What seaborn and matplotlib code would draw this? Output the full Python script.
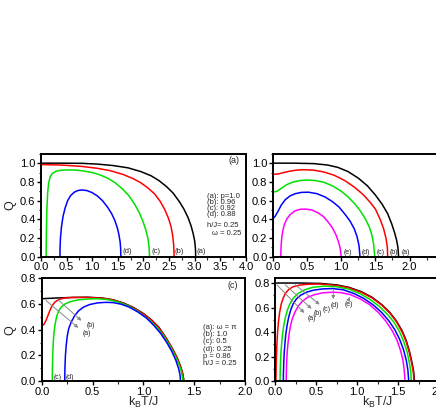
import numpy as np
import pandas as pd
import matplotlib
matplotlib.use("Agg")
import matplotlib.pyplot as plt
import seaborn as sns
from matplotlib.ticker import MultipleLocator, FormatStrFormatter

sns.set_theme(style="ticks")
plt.rcParams['font.family'] = ['Liberation Sans', 'DejaVu Sans']
plt.rcParams['mathtext.fontset'] = 'custom'
plt.rcParams['mathtext.rm'] = 'Liberation Sans'

# ---------------- Panel (a): different p ----------------
a_T_a = [0, 0.4, 0.8, 1.1, 1.4, 1.7, 1.95, 2.15, 2.3, 2.45, 2.58, 2.7, 2.79, 2.87, 2.93, 2.97, 3.0, 3.015, 3.02]
a_Q_a = [1.0, 1.0, 0.998, 0.99, 0.975, 0.95, 0.91, 0.865, 0.815, 0.75, 0.68, 0.59, 0.51, 0.42, 0.33, 0.25, 0.17, 0.09, 0.0]
a_T_b = [0, 0.4, 0.8, 1.1, 1.35, 1.6, 1.8, 1.95, 2.1, 2.22, 2.33, 2.42, 2.49, 2.54, 2.57, 2.59, 2.6]
a_Q_b = [0.985, 0.98, 0.965, 0.945, 0.92, 0.88, 0.835, 0.79, 0.73, 0.67, 0.59, 0.5, 0.41, 0.32, 0.23, 0.13, 0.0]
a_T_c = [0.1, 0.105, 0.115, 0.13, 0.15, 0.18, 0.22, 0.3, 0.4, 0.55, 0.7, 0.85, 1.0, 1.15, 1.3, 1.45, 1.6, 1.72,
         1.83, 1.92, 1.99, 2.05, 2.09, 2.11, 2.12]
a_Q_c = [0.0, 0.25, 0.5, 0.68, 0.79, 0.855, 0.89, 0.915, 0.925, 0.928, 0.925, 0.915, 0.9, 0.875, 0.84, 0.79, 0.72, 0.65,
         0.56, 0.47, 0.38, 0.28, 0.19, 0.1, 0.0]
a_T_d = [0.37, 0.372, 0.38, 0.4, 0.43, 0.47, 0.52, 0.58, 0.65, 0.72, 0.8, 0.9, 1.0, 1.1, 1.2, 1.3, 1.38, 1.44, 1.49,
         1.52, 1.545, 1.555, 1.56]
a_Q_d = [0.0, 0.1, 0.2, 0.32, 0.43, 0.52, 0.6, 0.655, 0.69, 0.708, 0.714, 0.707, 0.685, 0.65, 0.6, 0.53, 0.46, 0.39, 0.31,
         0.24, 0.16, 0.09, 0.0]

# ---------------- Panel (b): top right ----------------
b_T_a = [0, 0.3, 0.6, 0.8, 0.95, 1.1, 1.25, 1.38, 1.5, 1.6, 1.68, 1.74, 1.78, 1.81, 1.83, 1.84]
b_Q_a = [1.0, 1.0, 0.995, 0.98, 0.955, 0.91, 0.84, 0.76, 0.66, 0.56, 0.46, 0.35, 0.26, 0.18, 0.1, 0.0]
b_T_b = [0, 0.08, 0.16, 0.25, 0.35, 0.45, 0.6, 0.75, 0.9, 1.05, 1.2, 1.32, 1.42, 1.5, 1.57, 1.62, 1.655, 1.675, 1.68]
b_Q_b = [0.88, 0.885, 0.9, 0.915, 0.926, 0.93, 0.925, 0.905, 0.87, 0.815, 0.74, 0.665, 0.585, 0.51, 0.4, 0.3, 0.2, 0.1, 0.0]
b_T_c = [0, 0.06, 0.12, 0.2, 0.3, 0.4, 0.5, 0.62, 0.75, 0.88, 1.0, 1.1, 1.2, 1.28, 1.35, 1.41, 1.45, 1.475, 1.49]
b_Q_c = [0.69, 0.7, 0.73, 0.77, 0.8, 0.815, 0.82, 0.815, 0.795, 0.755, 0.7, 0.64, 0.565, 0.49, 0.41, 0.32, 0.23, 0.13, 0.0]
b_T_d = [0, 0.03, 0.07, 0.12, 0.18, 0.25, 0.33, 0.42, 0.52, 0.64, 0.76, 0.87, 0.97, 1.06, 1.13, 1.19, 1.23, 1.26, 1.275]
b_Q_d = [0.41, 0.43, 0.48, 0.55, 0.61, 0.65, 0.675, 0.688, 0.69, 0.675, 0.64, 0.59, 0.53, 0.45, 0.38, 0.3, 0.22, 0.12, 0.0]
b_T_e = [0.115, 0.117, 0.122, 0.13, 0.145, 0.165, 0.2, 0.25, 0.32, 0.4, 0.48, 0.57, 0.66, 0.74, 0.81, 0.87, 0.92, 0.96,
         0.985, 1.0]
b_Q_e = [0.0, 0.07, 0.14, 0.21, 0.28, 0.34, 0.4, 0.45, 0.49, 0.508, 0.51, 0.5, 0.47, 0.43, 0.37, 0.31, 0.24, 0.16,
         0.09, 0.0]

# ---------------- Panel (c): different omega ----------------
c_T_a = [0, 0.15, 0.3, 0.45, 0.6, 0.7, 0.8, 0.9, 1.0, 1.08, 1.15, 1.22, 1.28, 1.33, 1.365, 1.385, 1.4]
c_Q_a = [0.64, 0.646, 0.65, 0.652, 0.645, 0.632, 0.608, 0.573, 0.525, 0.475, 0.42, 0.34, 0.26, 0.185, 0.115, 0.065, 0.0]
c_T_b = [0, 0.02, 0.04, 0.06, 0.08, 0.1, 0.13, 0.17, 0.22, 0.3, 0.45, 0.6, 0.7, 0.8, 0.9, 1.0, 1.08, 1.15, 1.22,
         1.28, 1.33, 1.365, 1.383, 1.397]
c_Q_b = [0.43, 0.44, 0.47, 0.51, 0.55, 0.585, 0.615, 0.635, 0.645, 0.65, 0.65, 0.643, 0.63, 0.605, 0.57, 0.522, 0.472,
         0.417, 0.337, 0.257, 0.182, 0.112, 0.062, 0.0]
c_T_c = [0.103, 0.104, 0.107, 0.112, 0.12, 0.13, 0.145, 0.165, 0.19, 0.23, 0.28, 0.35, 0.45, 0.55, 0.65, 0.75, 0.85,
         0.95, 1.05, 1.13, 1.2, 1.26, 1.31, 1.35, 1.375, 1.39]
c_Q_c = [0.0, 0.1, 0.2, 0.3, 0.38, 0.44, 0.5, 0.545, 0.575, 0.6, 0.617, 0.63, 0.638, 0.64, 0.633, 0.615, 0.585,
         0.54, 0.48, 0.42, 0.35, 0.275, 0.2, 0.13, 0.07, 0.0]
c_T_d = [0.225, 0.227, 0.232, 0.24, 0.25, 0.265, 0.29, 0.32, 0.36, 0.41, 0.47, 0.55, 0.63, 0.7, 0.78, 0.86, 0.95,
         1.03, 1.1, 1.17, 1.23, 1.28, 1.32, 1.345, 1.36, 1.365]
c_Q_d = [0.0, 0.1, 0.2, 0.28, 0.35, 0.41, 0.46, 0.505, 0.545, 0.575, 0.595, 0.608, 0.612, 0.61, 0.598, 0.575, 0.535,
         0.49, 0.435, 0.37, 0.3, 0.23, 0.16, 0.1, 0.05, 0.0]

# ---------------- Panel (d): bottom right ----------------
d_T_a = [0, 0.3, 0.55, 0.75, 0.9, 1.05, 1.18, 1.3, 1.4, 1.48, 1.55, 1.6, 1.64, 1.67, 1.69, 1.7]
d_Q_a = [0.8, 0.8, 0.797, 0.785, 0.765, 0.73, 0.685, 0.625, 0.56, 0.49, 0.41, 0.33, 0.24, 0.15, 0.08, 0.0]
d_T_b = [0.01, 0.012, 0.016, 0.022, 0.03, 0.04, 0.055, 0.075, 0.1, 0.13, 0.17, 0.22, 0.3, 0.4, 0.55, 0.75, 0.9,
         1.05, 1.18, 1.3, 1.4, 1.48, 1.55, 1.6, 1.635, 1.665, 1.685, 1.695]
d_Q_b = [0.0, 0.1, 0.2, 0.3, 0.4, 0.48, 0.56, 0.63, 0.68, 0.72, 0.75, 0.77, 0.783, 0.79, 0.792, 0.78, 0.76,
         0.725, 0.68, 0.62, 0.555, 0.485, 0.4, 0.32, 0.24, 0.15, 0.08, 0.0]
d_T_c = [0.06, 0.062, 0.066, 0.072, 0.08, 0.09, 0.105, 0.125, 0.15, 0.18, 0.22, 0.28, 0.36, 0.46, 0.6, 0.75, 0.9,
         1.03, 1.15, 1.27, 1.37, 1.45, 1.52, 1.57, 1.61, 1.635, 1.655, 1.66]
d_Q_c = [0.0, 0.08, 0.16, 0.24, 0.31, 0.38, 0.45, 0.52, 0.58, 0.63, 0.675, 0.715, 0.745, 0.765, 0.775, 0.77, 0.75,
         0.715, 0.67, 0.61, 0.545, 0.48, 0.4, 0.32, 0.24, 0.16, 0.08, 0.0]
d_T_d = [0.1, 0.102, 0.106, 0.112, 0.12, 0.13, 0.145, 0.165, 0.19, 0.22, 0.26, 0.31, 0.38, 0.47, 0.58, 0.7, 0.83,
         0.96, 1.08, 1.2, 1.3, 1.39, 1.46, 1.52, 1.565, 1.6, 1.62, 1.63]
d_Q_d = [0.0, 0.08, 0.16, 0.24, 0.31, 0.38, 0.45, 0.52, 0.58, 0.63, 0.67, 0.7, 0.725, 0.742, 0.752, 0.755, 0.745,
         0.715, 0.675, 0.62, 0.56, 0.49, 0.42, 0.34, 0.26, 0.17, 0.09, 0.0]
d_T_e = [0.135, 0.137, 0.141, 0.148, 0.157, 0.17, 0.187, 0.21, 0.24, 0.28, 0.33, 0.4, 0.48, 0.58, 0.7, 0.8, 0.92,
         1.04, 1.15, 1.26, 1.35, 1.43, 1.49, 1.53, 1.56, 1.575, 1.585]
d_Q_e = [0.0, 0.08, 0.16, 0.24, 0.31, 0.38, 0.45, 0.51, 0.56, 0.61, 0.65, 0.685, 0.705, 0.72, 0.725, 0.722, 0.705,
         0.67, 0.625, 0.56, 0.49, 0.41, 0.33, 0.25, 0.17, 0.09, 0.0]

colors = ['#000000', '#ff0000', '#00e000', '#0000ff', '#ff00ff']

a_legend = ["(a): p=1.0", "(b): 0.96", "(c): 0.92", "(d): 0.88"]
c_legend = ["(a): \u03c9 = \u03c0", "(b): 1.0", "(c): 0.5", "(d): 0.25"]

fig = plt.figure(figsize=(4.36, 4.09), dpi=100)
W = 0.470
H = 0.252
ax_a = fig.add_axes([0.094, 0.372, W, H])
ax_b = fig.add_axes([0.626, 0.372, W, H])
ax_c = fig.add_axes([0.096, 0.068, W - 0.004, H])
ax_d = fig.add_axes([0.631, 0.068, W, H])


def draw(ax, curves):
    for i, (T, Q) in enumerate(curves):
        df = pd.DataFrame({"T": T, "Q": Q})
        sns.lineplot(data=df, x="T", y="Q", ax=ax, color=colors[i], lw=1.1,
                     sort=False, estimator=None)


def style(ax, xlim, ylim, xmaj, ymaj):
    ax.set_xlim(*xlim)
    ax.set_ylim(*ylim)
    ax.xaxis.set_major_locator(MultipleLocator(xmaj))
    ax.xaxis.set_minor_locator(MultipleLocator(xmaj / 2))
    ax.yaxis.set_major_locator(MultipleLocator(ymaj))
    ax.yaxis.set_minor_locator(MultipleLocator(ymaj / 2))
    ax.xaxis.set_major_formatter(FormatStrFormatter('%.1f'))
    ax.yaxis.set_major_formatter(FormatStrFormatter('%.1f'))
    ax.tick_params(which='major', direction='out', length=3, width=1.0,
                   labelsize=8, pad=1, colors='black')
    ax.tick_params(which='minor', direction='out', length=1.8, width=0.8)
    for s in ax.spines.values():
        s.set_linewidth(1.4)
        s.set_color('black')
    ax.set_xlabel("")
    ax.set_ylabel("")


draw(ax_a, [(a_T_a, a_Q_a), (a_T_b, a_Q_b), (a_T_c, a_Q_c), (a_T_d, a_Q_d)])
style(ax_a, (0, 4.0), (0, 1.1), 0.5, 0.2)
ax_a.set_ylabel("Q", fontsize=9, labelpad=3)
ax_a.text(3.77, 1.03, "(a)", fontsize=6.5, ha='center', va='center')
for j, s in enumerate(a_legend):
    ax_a.text(3.25, 0.64 - j * 0.064, s, fontsize=5.5, ha='left', va='center')
ax_a.text(3.25, 0.33, "h/J= 0.25", fontsize=5.5, ha='left', va='center')
ax_a.text(3.33, 0.245, "\u03c9 = 0.25", fontsize=5.5, ha='left', va='center')
for lab, x in zip(["(d)", "(c)", "(b)", "(a)"], [1.59, 2.16, 2.61, 3.04]):
    ax_a.text(x, 0.055, lab, fontsize=5.5, ha='left', va='center')

draw(ax_b, [(b_T_a, b_Q_a), (b_T_b, b_Q_b), (b_T_c, b_Q_c), (b_T_d, b_Q_d), (b_T_e, b_Q_e)])
style(ax_b, (0, 3.0), (0, 1.1), 0.5, 0.2)
ax_b.set_xticks(np.arange(0, 2.01, 0.5))
for lab, x in zip(["(e)", "(d)", "(c)", "(b)", "(a)"], [1.04, 1.30, 1.52, 1.71, 1.89]):
    ax_b.text(x, 0.05, lab, fontsize=5, ha='left', va='center')

draw(ax_c, [(c_T_a, c_Q_a), (c_T_b, c_Q_b), (c_T_c, c_Q_c), (c_T_d, c_Q_d)])
style(ax_c, (0, 2.0), (0, 0.8), 0.5, 0.2)
ax_c.set_ylabel("Q", fontsize=9, labelpad=3)
ax_c.set_xlabel(r"k$_\mathrm{B}$T/J", fontsize=9, labelpad=-1)
ax_c.text(1.88, 0.74, "(c)", fontsize=6.5, ha='center', va='center')
for j, s in enumerate(c_legend):
    ax_c.text(1.59, 0.42 - j * 0.057, s, fontsize=5.5, ha='left', va='center')
ax_c.text(1.59, 0.19, "p = 0.86", fontsize=5.5, ha='left', va='center')
ax_c.text(1.59, 0.14, "h/J = 0.25", fontsize=5.5, ha='left', va='center')
ax_c.text(0.115, 0.03, "(c)", fontsize=5, ha='left', va='center')
ax_c.text(0.235, 0.03, "(d)", fontsize=5, ha='left', va='center')
arr = dict(arrowstyle='-|>', color='#888888', lw=0.7, mutation_scale=5)
ax_c.annotate("", xy=(0.38, 0.40), xytext=(0.02, 0.64), arrowprops=arr)
ax_c.annotate("", xy=(0.41, 0.455), xytext=(0.14, 0.645), arrowprops=arr)
ax_c.text(0.40, 0.37, "(a)", fontsize=5, ha='left', va='center')
ax_c.text(0.44, 0.43, "(b)", fontsize=5, ha='left', va='center')

draw(ax_d, [(d_T_a, d_Q_a), (d_T_b, d_Q_b), (d_T_c, d_Q_c), (d_T_d, d_Q_d), (d_T_e, d_Q_e)])
style(ax_d, (0, 2.5), (0, 0.84), 0.5, 0.2)
ax_d.set_xlabel(r"k$_\mathrm{B}$T/J", fontsize=9, labelpad=-1)
ax_d.annotate("", xy=(0.38, 0.54), xytext=(0.0, 0.80), arrowprops=arr)
ax_d.annotate("", xy=(0.47, 0.575), xytext=(0.1, 0.80), arrowprops=arr)
ax_d.annotate("", xy=(0.57, 0.61), xytext=(0.22, 0.80), arrowprops=arr)
ax_d.annotate("", xy=(0.71, 0.645), xytext=(0.71, 0.77), arrowprops=arr)
ax_d.annotate("", xy=(0.93, 0.705), xytext=(0.89, 0.655), arrowprops=arr)
for lab, x, y in zip(["(a)", "(b)", "(c)", "(d)", "(e)"],
                     [0.40, 0.47, 0.58, 0.68, 0.85],
                     [0.51, 0.55, 0.585, 0.615, 0.625]):
    ax_d.text(x, y, lab, fontsize=5, ha='left', va='center')

fig.savefig("out.png", dpi=100)
